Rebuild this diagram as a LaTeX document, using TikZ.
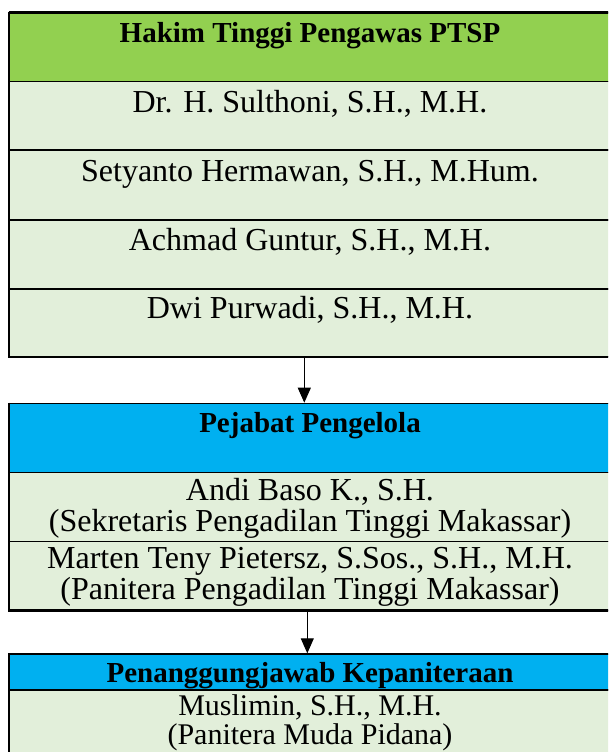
\documentclass[tikz,border=0pt]{standalone}
\usepackage{fontspec}
\setmainfont{Liberation Serif}
\usetikzlibrary{arrows.meta}
\definecolor{hdrgreen}{HTML}{92D050}
\definecolor{hdrblue}{HTML}{00B0F0}
\definecolor{rowpale}{HTML}{E2EFDA}
\begin{document}
\begin{tikzpicture}[x=1pt,y=1pt,
  cell/.style={draw=black, line width=1.5pt, anchor=north west, inner sep=0pt,
               minimum width=603.3pt},
  paler/.style={cell, fill=rowpale},
  body/.style={font=\fontsize{32}{38}\selectfont, anchor=base, inner sep=0pt},
  smallbody/.style={body, font=\fontsize{30}{36}\selectfont},
  head/.style={font=\bfseries\fontsize{29}{35}\selectfont, anchor=base, inner sep=0pt},
  arr/.style={line width=1pt, -{Triangle[length=15pt,width=13pt]}}]
\clip (0,0) rectangle (608,-752);
\fill[white] (0,0) rectangle (608,-752);

% Box 1
\node[cell, fill=hdrgreen, minimum height=68.2pt] (h1) at (8.7,-12.3) {};
\node[paler, minimum height=68.8pt] (r1) at (8.7,-80.5) {};
\node[paler, minimum height=70pt] (r2) at (8.7,-149.3) {};
\node[paler, minimum height=68.7pt] (r3) at (8.7,-219.3) {};
\node[paler, minimum height=67.5pt] (r4) at (8.7,-288) {};
\draw[line width=2pt] (h1.north west) -- (h1.north east);
\draw[line width=2pt] (h1.north west) -- (r4.south west) -- (r4.south east);

\node[head] (t1) at (310,-43) {Hakim Tinggi Pengawas PTSP};
\node[body] (t2) at (310,-112) {Dr. H. Sulthoni, S.H., M.H.};
\node[body] (t3) at (310,-181) {Setyanto Hermawan, S.H., M.Hum.};
\node[body] (t4) at (310,-250) {Achmad Guntur, S.H., M.H.};
\node[body] (t5) at (310,-318) {Dwi Purwadi, S.H., M.H.};

% Box 2
\node[cell, fill=hdrblue, minimum height=69pt] (h2) at (8.7,-402.7) {};
\node[paler, minimum height=69pt] (r5) at (8.7,-471.7) {};
\node[paler, minimum height=68.3pt] (r6) at (8.7,-540.7) {};
\draw[line width=2pt] (h2.north west) -- (r6.south west) -- (r6.south east);

\node[head] (t6) at (310,-432) {Pejabat Pengelola};
\node[body] (t7) at (310,-500) {Andi Baso K., S.H.};
\node[body] (t8) at (310,-531) {(Sekretaris Pengadilan Tinggi Makassar)};
\node[body] (t9) at (310,-568) {Marten Teny Pietersz, S.Sos., S.H., M.H.};
\node[body] (t10) at (310,-599) {(Panitera Pengadilan Tinggi Makassar)};

% Box 3
\node[cell, fill=hdrblue, minimum height=36pt] (h3) at (8.7,-653.3) {};
\node[paler, minimum height=80pt] (r7) at (8.7,-689.3) {};
\draw[line width=2pt] (h3.north west) -- (r7.south west);

\node[head] (t11) at (310,-682) {Penanggungjawab Kepaniteraan};
\node[smallbody] (t12) at (310,-715) {Muslimin, S.H., M.H.};
\node[smallbody] (t13) at (310,-744.5) {(Panitera Muda Pidana)};

% Arrows
\coordinate (ax1) at (304.3,0);
\coordinate (ax2) at (307.3,0);
\draw[arr] (r4.south -| ax1) -- (h2.north -| ax1);
\draw[arr] (r6.south -| ax2) -- (h3.north -| ax2);
\end{tikzpicture}
\end{document}
